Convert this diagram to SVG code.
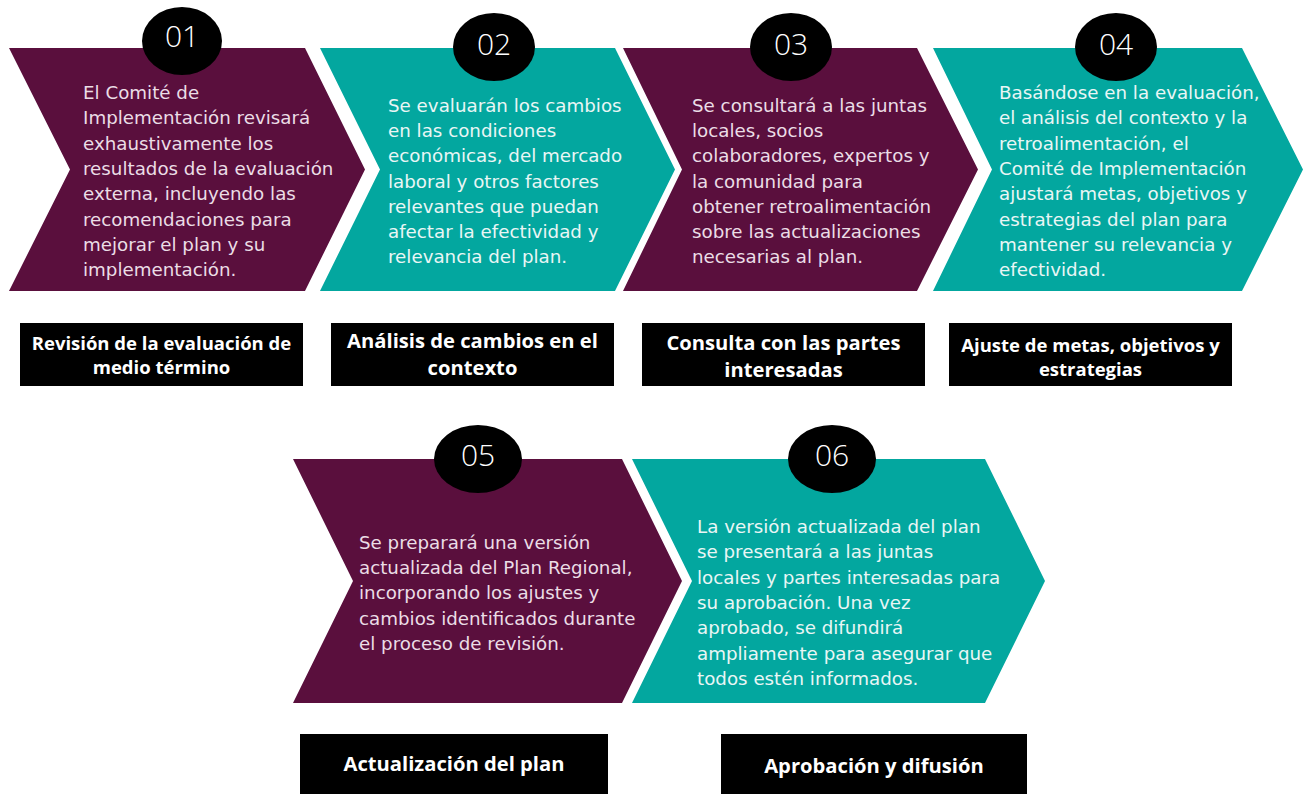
<svg xmlns="http://www.w3.org/2000/svg" width="1304" height="794" viewBox="0 0 1304 794">
<style>
.pur{fill:#5A0F3D}
.teal{fill:#03A79F}
.body{font-family:"DejaVu Sans","Open Sans",sans-serif;font-size:18.25px}
.tp{fill:#EBDDE6}
.tt{fill:#E9F6F5}
.num{font-family:"Open Sans","DejaVu Sans",sans-serif;font-weight:300;font-size:30px;fill:#FFFFFF;text-anchor:middle}
.badge{fill:#000000}
.lbl{fill:#000000}
.lt{font-family:"Open Sans","DejaVu Sans",sans-serif;font-weight:700;font-size:20.2px;fill:#FFFFFF;text-anchor:middle}
.ls{font-size:18.5px}
</style>
<rect width="1304" height="794" fill="#FFFFFF"/>
<g id="connectors"></g>

<g id="step1">
<path class="pur" d="M9,48 L305,48 L365,169.5 L305,291 L9,291 L70,169.5 Z"/>
<ellipse class="badge" cx="182" cy="41" rx="40" ry="34"/>
<text class="num" x="182" y="47">01</text>
<text class="body tp" x="83">
<tspan x="83" y="99">El Comité de</tspan>
<tspan x="83" y="124.3">Implementación revisará</tspan>
<tspan x="83" y="149.6">exhaustivamente los</tspan>
<tspan x="83" y="174.9">resultados de la evaluación</tspan>
<tspan x="83" y="200.2">externa, incluyendo las</tspan>
<tspan x="83" y="225.5">recomendaciones para</tspan>
<tspan x="83" y="250.8">mejorar el plan y su</tspan>
<tspan x="83" y="276.1">implementación.</tspan>
</text>
</g>

<g id="step2">
<path class="teal" d="M320,48 L615,48 L675,169.5 L615,291 L320,291 L380,169.5 Z"/>
<ellipse class="badge" cx="494" cy="47" rx="41" ry="34"/>
<text class="num" x="494" y="55">02</text>
<text class="body tt" x="388">
<tspan x="388" y="112">Se evaluarán los cambios</tspan>
<tspan x="388" y="137.2">en las condiciones</tspan>
<tspan x="388" y="162.4">económicas, del mercado</tspan>
<tspan x="388" y="187.6">laboral y otros factores</tspan>
<tspan x="388" y="212.8">relevantes que puedan</tspan>
<tspan x="388" y="238">afectar la efectividad y</tspan>
<tspan x="388" y="263.2">relevancia del plan.</tspan>
</text>
</g>

<g id="step3">
<path class="pur" d="M623,48 L917,48 L978,169.5 L917,291 L623,291 L682,169.5 Z"/>
<ellipse class="badge" cx="791" cy="47" rx="41" ry="34"/>
<text class="num" x="791" y="55">03</text>
<text class="body tp" x="692">
<tspan x="692" y="112">Se consultará a las juntas</tspan>
<tspan x="692" y="137.2">locales, socios</tspan>
<tspan x="692" y="162.4">colaboradores, expertos y</tspan>
<tspan x="692" y="187.6">la comunidad para</tspan>
<tspan x="692" y="212.8">obtener retroalimentación</tspan>
<tspan x="692" y="238">sobre las actualizaciones</tspan>
<tspan x="692" y="263.2">necesarias al plan.</tspan>
</text>
</g>

<g id="step4">
<path class="teal" d="M933,48 L1242,48 L1303,169.5 L1242,291 L933,291 L992,169.5 Z"/>
<ellipse class="badge" cx="1116" cy="47" rx="41" ry="34"/>
<text class="num" x="1116" y="55">04</text>
<text class="body tt" x="999">
<tspan x="999" y="99">Basándose en la evaluación,</tspan>
<tspan x="999" y="124.3">el análisis del contexto y la</tspan>
<tspan x="999" y="149.6">retroalimentación, el</tspan>
<tspan x="999" y="174.9">Comité de Implementación</tspan>
<tspan x="999" y="200.2">ajustará metas, objetivos y</tspan>
<tspan x="999" y="225.5">estrategias del plan para</tspan>
<tspan x="999" y="250.8">mantener su relevancia y</tspan>
<tspan x="999" y="276.1">efectividad.</tspan>
</text>
</g>

<g id="step5">
<path class="pur" d="M293,459 L622,459 L682,581 L622,703 L293,703 L353,581 Z"/>
<ellipse class="badge" cx="478" cy="459" rx="44" ry="34"/>
<text class="num" x="478" y="466">05</text>
<text class="body tp" x="359">
<tspan x="359" y="549">Se preparará una versión</tspan>
<tspan x="359" y="574.2">actualizada del Plan Regional,</tspan>
<tspan x="359" y="599.4">incorporando los ajustes y</tspan>
<tspan x="359" y="624.6">cambios identificados durante</tspan>
<tspan x="359" y="649.8">el proceso de revisión.</tspan>
</text>
</g>

<g id="step6">
<path class="teal" d="M632,459 L985,459 L1045,581 L985,703 L632,703 L692,581 Z"/>
<ellipse class="badge" cx="832" cy="459" rx="44" ry="34"/>
<text class="num" x="832" y="466">06</text>
<text class="body tt" x="697">
<tspan x="697" y="533">La versión actualizada del plan</tspan>
<tspan x="697" y="558.3">se presentará a las juntas</tspan>
<tspan x="697" y="583.6">locales y partes interesadas para</tspan>
<tspan x="697" y="608.9">su aprobación. Una vez</tspan>
<tspan x="697" y="634.2">aprobado, se difundirá</tspan>
<tspan x="697" y="659.5">ampliamente para asegurar que</tspan>
<tspan x="697" y="684.8">todos estén informados.</tspan>
</text>
</g>

<g id="label1">
<rect class="lbl" x="20" y="323" width="283" height="63"/>
<text class="lt ls" x="161.5" y="350">Revisión de la evaluación de</text>
<text class="lt ls" x="161.5" y="374">medio término</text>
</g>
<g id="label2">
<rect class="lbl" x="331" y="323" width="283" height="63"/>
<text class="lt" x="472.5" y="348">Análisis de cambios en el</text>
<text class="lt" x="472.5" y="375">contexto</text>
</g>
<g id="label3">
<rect class="lbl" x="642" y="323" width="283" height="63"/>
<text class="lt" x="783.5" y="350">Consulta con las partes</text>
<text class="lt" x="783.5" y="377">interesadas</text>
</g>
<g id="label4">
<rect class="lbl" x="949" y="323" width="283" height="63"/>
<text class="lt ls" x="1090.5" y="352">Ajuste de metas, objetivos y</text>
<text class="lt ls" x="1090.5" y="376">estrategias</text>
</g>
<g id="label5">
<rect class="lbl" x="300" y="734" width="308" height="60"/>
<text class="lt" x="454" y="771">Actualización del plan</text>
</g>
<g id="label6">
<rect class="lbl" x="721" y="734" width="306" height="60"/>
<text class="lt" x="874" y="773">Aprobación y difusión</text>
</g>
</svg>
